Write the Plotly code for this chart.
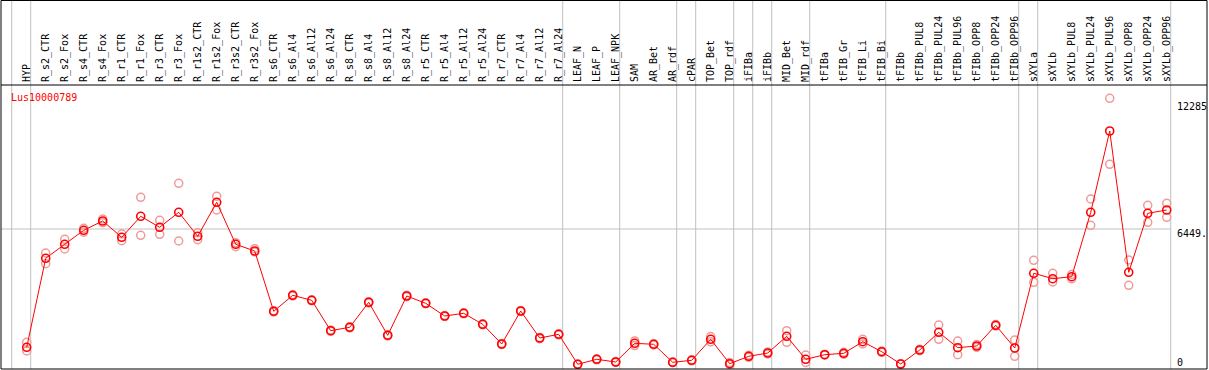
import plotly.graph_objects as go

categories = [
    "HYP", "R_s2_CTR", "R_s2_Fox", "R_s4_CTR", "R_s4_Fox", "R_r1_CTR", "R_r1_Fox",
    "R_r3_CTR", "R_r3_Fox", "R_r1s2_CTR", "R_r1s2_Fox", "R_r3s2_CTR", "R_r3s2_Fox",
    "R_s6_CTR", "R_s6_Al4", "R_s6_Al12", "R_s6_Al24", "R_s8_CTR", "R_s8_Al4", "R_s8_Al12",
    "R_s8_Al24", "R_r5_CTR", "R_r5_Al4", "R_r5_Al12", "R_r5_Al24", "R_r7_CTR", "R_r7_Al4",
    "R_r7_Al12", "R_r7_Al24", "LEAF_N", "LEAF_P", "LEAF_NPK", "SAM", "AR_Bet", "AR_rdf",
    "cPAR", "TOP_Bet", "TOP_rdf", "iFIBa", "iFIBb", "MID_Bet", "MID_rdf", "tFIBa",
    "tFIB_Gr", "tFIB_Li", "tFIB_Bi", "tFIBb", "tFIBb_PUL8", "tFIBb_PUL24", "tFIBb_PUL96",
    "tFIBb_OPP8", "tFIBb_OPP24", "tFIBb_OPP96", "sXYLa", "sXYLb", "sXYLb_PUL8",
    "sXYLb_PUL24", "sXYLb_PUL96", "sXYLb_OPP8", "sXYLb_OPP24", "sXYLb_OPP96",
]

mean_values = [
    819, 5054, 5721, 6387, 6830, 6054, 7053, 6530, 7244, 6102, 7720, 5721, 5402,
    2532, 3293, 3056, 1609, 1770, 2960, 1390, 3260, 2913, 2308, 2437, 1913, 976, 2546,
    1261, 1437, 10, 247, 119, 1009, 961, 105, 200, 1199, 38, 390, 547, 1342, 247, 466,
    533, 1085, 609, 24, 690, 1532, 800, 880, 1866, 785, 4341, 4084, 4179, 7244, 11113,
    4388, 7196, 7353,
]

replicate_a = [
    1057, 5307, 5959, 6480, 6920, 6211, 7958, 6863, 8624, 6273, 8005, 5797, 5511,
    2560, 3320, 3080, 1640, 1800, 2990, 1420, 3290, 2940, 2330, 2460, 1940, 1000, 2570,
    1290, 1460, 20, 270, 140, 1120, 990, 125, 225, 1330, 90, 440, 590, 1609, 452, 490,
    580, 1200, 640, 40, 720, 1880, 1118, 950, 1900, 1166, 4959, 4341, 4280, 7877, 12669,
    4974, 7577, 7672,
]

replicate_b = [
    643, 4797, 5497, 6300, 6750, 5892, 6149, 6197, 5878, 5940, 7353, 5607, 5354,
    2500, 3260, 3030, 1580, 1740, 2930, 1360, 3230, 2890, 2280, 2410, 1890, 950, 2520,
    1230, 1410, 0, 225, 100, 900, 930, 85, 175, 1080, 0, 340, 505, 1057, 100, 440,
    490, 980, 580, 10, 660, 1199, 466, 820, 1830, 390, 3912, 3926, 4080, 6625, 9528,
    3769, 6768, 7006,
]

# index of the last category in each group (group separators)
group_ends = [-1, 0, 28, 31, 34, 35, 37, 38, 39, 41, 45, 52, 53, 60]

tick_values = [0, 6449, 12285]
tick_texts = ["0", "6449.", "12285"]
gene_name = "Lus10000789"

FONT = "DejaVu Sans Mono"
x = list(range(len(categories)))

fig = go.Figure()
for reps in (replicate_a, replicate_b):
    fig.add_trace(go.Scatter(
        x=x, y=reps, mode="markers",
        marker=dict(symbol="circle-open", size=8, color="#F09A9A", line=dict(width=1.5)),
        hoverinfo="skip",
    ))
fig.add_trace(go.Scatter(
    x=x, y=mean_values, mode="lines+markers",
    line=dict(color="#FF0000", width=1),
    marker=dict(symbol="circle-open", size=8, color="#FF0000", line=dict(width=1.6)),
))

W, H = 1209, 370
ML, MR, MT, MB = 1, 2, 85, 1
pw = W - ML - MR
ph = H - MT - MB
top_paper = 1 + (MT - 0.5) / ph

shapes = []
for g in group_ends:
    shapes.append(dict(type="line", xref="x", yref="paper", x0=g + 0.21, x1=g + 0.21,
                       y0=0, y1=top_paper, line=dict(color="#C0C0C0", width=1), layer="below"))
shapes.append(dict(type="line", xref="x", yref="y", x0=-1.4, x1=group_ends[-1] + 0.21,
                   y0=tick_values[1], y1=tick_values[1],
                   line=dict(color="#C0C0C0", width=1), layer="below"))
shapes.append(dict(type="rect", xref="paper", yref="paper", x0=0, x1=1, y0=0, y1=top_paper,
                   line=dict(color="black", width=1)))
shapes.append(dict(type="line", xref="paper", yref="paper", x0=0, x1=1, y0=1, y1=1,
                   line=dict(color="black", width=1)))

annotations = [dict(
    text=gene_name, xref="paper", yref="paper", x=(9 - ML) / pw, y=(H - MB - 97) / ph,
    xanchor="left", yanchor="middle", showarrow=False,
    font=dict(family=FONT, size=10, color="#FF0000"),
)]
for tv, tt, sh in zip(tick_values, tick_texts, [2, -4, 0]):
    annotations.append(dict(
        text=tt, xref="paper", yref="y", x=(1176 - ML) / pw, y=tv, yshift=sh,
        xanchor="left", yanchor="middle", showarrow=False, borderpad=0,
        font=dict(family=FONT, size=10, color="black"),
    ))

fig.update_layout(
    width=W, height=H,
    margin=dict(l=ML, r=MR, t=MT, b=MB, pad=0, autoexpand=False),
    paper_bgcolor="white", plot_bgcolor="white",
    showlegend=False,
    shapes=shapes, annotations=annotations,
    xaxis=dict(
        range=[-1.353, 62.12], side="top", tickmode="array", tickvals=x, ticktext=categories,
        tickangle=-90, tickfont=dict(family=FONT, size=10, color="black"),
        showgrid=False, zeroline=False, showline=False, ticks="", automargin=False,
        ticklabelstandoff=2,
    ),
    yaxis=dict(range=[-214, 13302], visible=False, automargin=False),
)

fig.write_html(
    "out.html",
    config={"displayModeBar": False},
    post_script="document.body.style.margin='0';document.body.style.overflow='hidden';",
)
